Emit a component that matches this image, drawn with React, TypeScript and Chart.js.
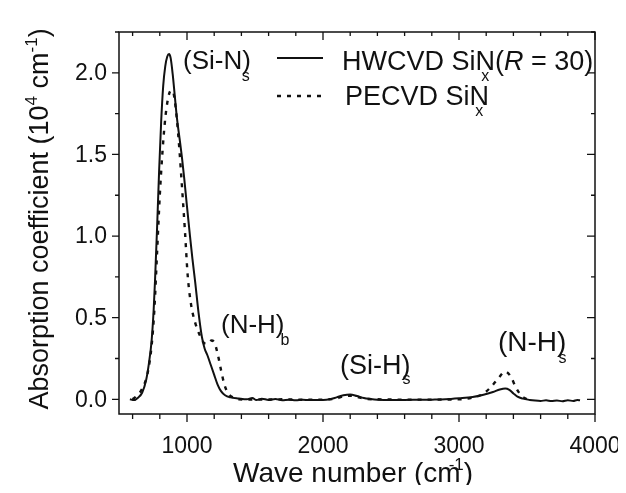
import { useEffect, useRef } from 'react';
import { Chart, registerables } from 'chart.js';

Chart.register(...registerables);

// ---- data ----
const waveHW = [580, 610, 640, 670, 700, 720, 740, 755, 765, 780, 795, 810, 825, 840, 855, 868, 880, 895, 910, 925, 945, 963, 980, 1000, 1022, 1040, 1060, 1085, 1110, 1130, 1150, 1175, 1200, 1225, 1250, 1280, 1320, 1380, 1440, 1480, 1510, 1550, 1600, 1650, 1700, 1750, 1800, 1850, 1900, 1950, 2000, 2050, 2100, 2150, 2200, 2250, 2300, 2350, 2400, 2500, 2600, 2700, 2800, 2900, 3000, 3100, 3180, 3250, 3300, 3340, 3370, 3400, 3430, 3470, 3520, 3560, 3600, 3640, 3680, 3720, 3760, 3800, 3840, 3870, 3890];
const absHW = [0.0, -0.005, 0.01, 0.04, 0.12, 0.22, 0.36, 0.55, 0.73, 1.05, 1.4, 1.7, 1.92, 2.04, 2.1, 2.115, 2.09, 1.99, 1.86, 1.73, 1.6, 1.48, 1.35, 1.18, 1.0, 0.86, 0.72, 0.53, 0.38, 0.31, 0.27, 0.21, 0.15, 0.09, 0.05, 0.025, 0.012, 0.005, 0.0, 0.008, -0.005, 0.004, -0.004, 0.002, -0.006, -0.002, -0.006, -0.003, -0.005, -0.004, -0.004, 0.0, 0.012, 0.025, 0.03, 0.02, 0.008, 0.002, -0.002, -0.004, -0.004, -0.003, -0.002, 0.0, 0.006, 0.014, 0.028, 0.045, 0.06, 0.066, 0.058, 0.036, 0.016, 0.004, -0.004, -0.008, -0.01, -0.006, -0.011, -0.007, -0.012, -0.006, -0.01, -0.004, -0.006];

const wavePE = [600, 630, 660, 690, 715, 740, 760, 780, 800, 820, 840, 860, 880, 895, 910, 925, 945, 960, 985, 1005, 1030, 1060, 1090, 1120, 1150, 1180, 1200, 1225, 1250, 1275, 1300, 1330, 1380, 1500, 1700, 1900, 2050, 2100, 2150, 2200, 2250, 2300, 2400, 2700, 3000, 3100, 3180, 3240, 3290, 3340, 3380, 3420, 3460, 3500];
const absPE = [0.0, 0.02, 0.05, 0.1, 0.18, 0.33, 0.55, 0.9, 1.25, 1.52, 1.72, 1.84, 1.89, 1.89, 1.83, 1.72, 1.52, 1.34, 1.03, 0.76, 0.58, 0.47, 0.4, 0.35, 0.34, 0.36, 0.35, 0.28, 0.18, 0.09, 0.04, 0.015, 0.0, -0.002, 0.0, -0.003, 0.0, 0.005, 0.018, 0.022, 0.015, 0.004, 0.0, -0.002, 0.0, 0.01, 0.035, 0.08, 0.13, 0.17, 0.14, 0.07, 0.02, 0.0];

const xMajorTicks = [1000, 2000, 3000, 4000];
const xTickLabels = ['1000', '2000', '3000', '4000'];
const xMinorTicks = [600, 800, 1200, 1400, 1600, 1800, 2200, 2400, 2600, 2800, 3200, 3400, 3600, 3800];
const yMajorTicks = [0, 0.5, 1.0, 1.5, 2.0];
const yTickLabels = ['0.0', '0.5', '1.0', '1.5', '2.0'];
const yMinorTicks = [0.25, 0.75, 1.25, 1.75, 2.25];

const FONT = '"Liberation Sans", Arial, Helvetica, sans-serif';
const INK = '#111111';

type Part = { t: string; size: number; dy?: number; dx?: number; italic?: boolean };

function drawRich(ctx: CanvasRenderingContext2D, x: number, y: number, parts: Part[]) {
  let cx = x;
  for (const p of parts) {
    ctx.font = `${p.italic ? 'italic ' : ''}${p.size}px ${FONT}`;
    const px = cx + (p.dx || 0);
    ctx.fillText(p.t, px, y + (p.dy || 0));
    cx = px + ctx.measureText(p.t).width;
  }
  return cx;
}

const framePlugin = {
  id: 'frameAndText',
  afterDraw(chart: any) {
    const ctx: CanvasRenderingContext2D = chart.ctx;
    const { left, right, top, bottom } = chart.chartArea;
    const xs = chart.scales.x;
    const ys = chart.scales.y;
    ctx.save();
    ctx.strokeStyle = INK;
    ctx.fillStyle = INK;
    ctx.lineWidth = 1.5;
    ctx.strokeRect(left, top, right - left, bottom - top);

    ctx.lineWidth = 1.3;
    ctx.beginPath();
    for (const v of xMajorTicks) {
      const p = xs.getPixelForValue(v);
      ctx.moveTo(p, bottom); ctx.lineTo(p, bottom + 8);
      ctx.moveTo(p, top); ctx.lineTo(p, top + 8);
    }
    for (const v of xMinorTicks) {
      const p = xs.getPixelForValue(v);
      ctx.moveTo(p, bottom); ctx.lineTo(p, bottom + 5);
      ctx.moveTo(p, top); ctx.lineTo(p, top + 4);
    }
    for (const v of yMajorTicks) {
      const p = ys.getPixelForValue(v);
      ctx.moveTo(left, p); ctx.lineTo(left - 7, p);
      ctx.moveTo(right, p); ctx.lineTo(right - 8, p);
    }
    for (const v of yMinorTicks) {
      const p = ys.getPixelForValue(v);
      ctx.moveTo(left, p); ctx.lineTo(left - 4, p);
      ctx.moveTo(right, p); ctx.lineTo(right - 4, p);
    }
    ctx.stroke();

    // tick labels
    ctx.font = `23px ${FONT}`;
    ctx.textAlign = 'center';
    ctx.textBaseline = 'alphabetic';
    xMajorTicks.forEach((v, i) => {
      ctx.fillText(xTickLabels[i], xs.getPixelForValue(v), bottom + 39);
    });
    ctx.textAlign = 'right';
    ctx.textBaseline = 'middle';
    yMajorTicks.forEach((v, i) => {
      ctx.fillText(yTickLabels[i], left - 12, ys.getPixelForValue(v) + 1);
    });

    ctx.textAlign = 'left';
    ctx.textBaseline = 'alphabetic';

    // x axis title
    drawRich(ctx, 225, 474, [
      { t: 'Wave number (cm', size: 28 },
      { t: '-1', size: 17, dy: -12, dx: -12 },
      { t: ')', size: 28, dx: 0 },
    ]);

    // y axis title (rotated)
    ctx.save();
    ctx.translate(40, 211);
    ctx.rotate(-Math.PI / 2);
    const parts: Part[] = [
      { t: 'Absorption coefficient (10', size: 27 },
      { t: '4', size: 17, dy: -11 },
      { t: ' cm', size: 27 },
      { t: '-1', size: 17, dy: -11 },
      { t: ')', size: 27 },
    ];
    let total = 0;
    for (const p of parts) { ctx.font = `${p.size}px ${FONT}`; total += ctx.measureText(p.t).width; }
    drawRich(ctx, -total / 2, 0, parts);
    ctx.restore();

    // peak annotations
    let e = drawRich(ctx, 175, 61, [{ t: '(Si-N)', size: 26 }]);
    drawRich(ctx, e - 9, 73, [{ t: 's', size: 16 }]);
    e = drawRich(ctx, 213, 325, [{ t: '(N-H)', size: 26 }]);
    drawRich(ctx, e - 4, 337, [{ t: 'b', size: 16 }]);
    e = drawRich(ctx, 332, 366, [{ t: '(Si-H)', size: 27 }]);
    drawRich(ctx, e - 8, 376, [{ t: 's', size: 16 }]);
    e = drawRich(ctx, 490, 343, [{ t: '(N-H)', size: 28 }]);
    drawRich(ctx, e - 8, 355, [{ t: 's', size: 16 }]);

    // legend
    ctx.lineWidth = 2;
    ctx.beginPath();
    ctx.moveTo(269, 50); ctx.lineTo(315, 50);
    ctx.stroke();
    ctx.setLineDash([4, 6]);
    ctx.lineWidth = 2.4;
    ctx.beginPath();
    ctx.moveTo(269, 88); ctx.lineTo(315, 88);
    ctx.stroke();
    ctx.setLineDash([]);

    let n = drawRich(ctx, 334, 62, [{ t: 'HWCVD Si', size: 27 }]);
    ctx.font = `27px ${FONT}`;
    const nw = ctx.measureText('N').width;
    drawRich(ctx, n + nw / 2 - 4, 73, [{ t: 'x', size: 16 }]);
    drawRich(ctx, n, 62, [
      { t: 'N', size: 27 },
      { t: '(', size: 27 },
      { t: 'R', size: 27, italic: true },
      { t: ' = 30)', size: 27 },
    ]);
    n = drawRich(ctx, 337, 97, [{ t: 'PECVD Si', size: 27 }]);
    drawRich(ctx, n, 97, [{ t: 'N', size: 27 }]);
    drawRich(ctx, n + nw / 2 - 4, 108, [{ t: 'x', size: 16 }]);

    ctx.restore();
  },
};

export default function App() {
  const ref = useRef<HTMLCanvasElement>(null);
  useEffect(() => {
    if (!ref.current) return;
    const chart = new Chart(ref.current, {
      type: 'line',
      data: {
        datasets: [
          {
            label: 'HWCVD SiNx (R = 30)',
            data: waveHW.map((x, i) => ({ x, y: absHW[i] })),
            borderColor: INK,
            borderWidth: 2,
            pointRadius: 0,
            cubicInterpolationMode: 'monotone',
            fill: false,
          },
          {
            label: 'PECVD SiNx',
            data: wavePE.map((x, i) => ({ x, y: absPE[i] })),
            borderColor: INK,
            borderWidth: 2.4,
            borderDash: [4, 6],
            pointRadius: 0,
            cubicInterpolationMode: 'monotone',
            fill: false,
          },
        ],
      },
      options: {
        animation: false,
        responsive: false,
        maintainAspectRatio: false,
        layout: { padding: { left: 111, top: 24, right: 23, bottom: 71 } },
        scales: {
          x: { type: 'linear', min: 500, max: 4000, display: false },
          y: { type: 'linear', min: -0.09, max: 2.25, display: false },
        },
        plugins: { legend: { display: false }, tooltip: { enabled: false } },
      },
      plugins: [framePlugin],
    } as any);
    return () => chart.destroy();
  }, []);
  return (
    <div style={{ width: 610, height: 477, background: '#fff' }}>
      <canvas ref={ref} width={610} height={477} style={{ display: 'block' }} />
    </div>
  );
}
